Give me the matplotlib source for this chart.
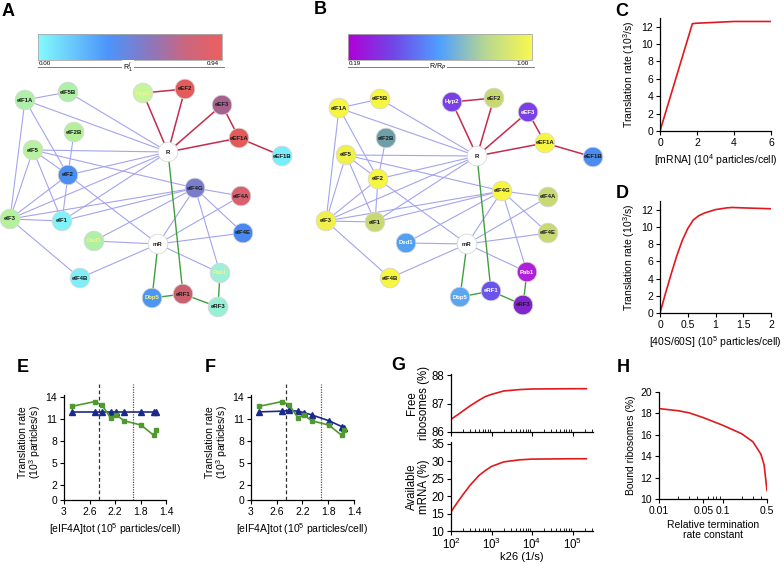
import numpy as np
import matplotlib
matplotlib.use('Agg')
import matplotlib.pyplot as plt
from matplotlib.colors import LinearSegmentedColormap
from matplotlib.ticker import NullFormatter, LogLocator

plt.rcParams['font.family'] = ['Liberation Sans', 'DejaVu Sans']
plt.rcParams['mathtext.fontset'] = 'custom'
plt.rcParams['mathtext.rm'] = 'Liberation Sans'
plt.rcParams['axes.linewidth'] = 0.9

W, H = 784, 565

# ---- network data (panels A, B) ----
nodes = ['eIF1A', 'eIF5B', 'Hyp2', 'eEF2', 'eEF3', 'eEF1A', 'eEF1B', 'eIF2B', 'eIF5', 'R',
         'eIF2', 'eIF4G', 'eIF4A', 'eIF3', 'eIF1', 'eIF4E', 'Ded1', 'mR', 'Pab1', 'eIF4B',
         'Dbp5', 'eRF1', 'eRF3']
xa = [25, 68, 143, 185, 222, 239, 282, 74, 33, 168, 68, 195, 241, 10, 62, 243, 94, 158, 220, 80, 152, 183, 218]
ya = [100, 92, 93, 89, 105, 138, 156, 132, 150, 152, 175, 188, 196, 219, 221, 233, 241, 244, 273, 278, 298, 294, 307]
xb = [339, 380, 452, 494, 528, 545, 593, 386, 346, 477, 378, 502, 548, 326, 375, 548, 406, 467, 527, 390, 460, 491, 523]
yb = [108, 99, 102, 98, 112, 143, 157, 138, 155, 156, 179, 191, 197, 221, 222, 233, 243, 244, 272, 278, 297, 291, 305]

col_a = ['#aef0a8', '#aef0a8', '#c6f59a', '#e55a5a', '#a5628f', '#e25a5a', '#78eefa', '#b4f09a',
         '#b6f0a0', '#ffffff', '#4c8ff0', '#7a7ccc', '#d9606e', '#b4f29a', '#80f2f8', '#4a88f0',
         '#aef0a8', '#ffffff', '#9ef0d8', '#80eef6', '#4c96f0', '#c8606e', '#98f0d4']
col_b = ['#f6f640', '#f6f640', '#7a40e6', '#c8d872', '#7a40e6', '#f6f640', '#4c8cf0', '#6e9ea8',
         '#f0f048', '#ffffff', '#f6f640', '#f6f640', '#c8d872', '#f0f048', '#c8d872', '#c8d872',
         '#52a0f0', '#ffffff', '#b020d8', '#f6f640', '#5aa6f0', '#6a52ea', '#8226cc']
light_a = ['Hyp2', 'Ded1', 'Pab1', 'Dbp5']
light_b = ['Hyp2', 'eEF3', 'Ded1', 'Pab1', 'Dbp5', 'eRF1']

edges_init = [('eIF1A', 'eIF5B'), ('eIF1A', 'R'), ('eIF5B', 'R'), ('eIF1A', 'eIF2'), ('eIF1A', 'eIF3'),
              ('eIF2B', 'eIF2'), ('eIF5', 'R'), ('eIF5', 'eIF2'), ('eIF5', 'eIF1'), ('eIF5', 'eIF3'),
              ('eIF5', 'eIF4G'), ('eIF2', 'R'), ('eIF2', 'eIF1'), ('eIF2', 'eIF3'), ('eIF2', 'mR'),
              ('eIF3', 'R'), ('eIF3', 'eIF4G'), ('eIF3', 'eIF1'), ('eIF1', 'R'), ('eIF1', 'eIF4G'),
              ('eIF3', 'eIF4B'), ('eIF4B', 'mR'), ('Ded1', 'mR'), ('Ded1', 'eIF4G'), ('mR', 'eIF4G'),
              ('mR', 'eIF4A'), ('mR', 'eIF4E'), ('mR', 'Pab1'), ('eIF4G', 'eIF4A'), ('eIF4G', 'eIF4E'),
              ('eIF4G', 'Pab1')]
edges_elong = [('R', 'Hyp2'), ('R', 'eEF2'), ('R', 'eEF3'), ('R', 'eEF1A'), ('Hyp2', 'eEF2'),
               ('eEF3', 'eEF1A'), ('eEF1A', 'eEF1B')]
edges_term = [('R', 'eRF1'), ('mR', 'Dbp5'), ('Dbp5', 'eRF1'), ('eRF1', 'eRF3'), ('Pab1', 'eRF3')]

# ---- curve data ----
c_x = [0, 1.75, 2, 3, 4, 5, 6]
c_y = [0, 12.35, 12.4, 12.5, 12.6, 12.6, 12.6]

d_x = [0, 0.1, 0.2, 0.3, 0.4, 0.5, 0.6, 0.7, 0.8, 1.0, 1.2, 1.3, 1.5, 2.0]
d_y = [0, 2.3, 4.5, 6.6, 8.4, 9.8, 10.8, 11.3, 11.6, 12.0, 12.2, 12.25, 12.2, 12.1]

eif4a = [2.88, 2.52, 2.41, 2.27, 2.18, 2.06, 1.79, 1.59, 1.56]
green_rate = [12.75, 13.4, 13.0, 11.2, 11.6, 10.8, 10.2, 8.8, 9.5]
blue_e = [12.0, 12.0, 12.0, 12.0, 12.0, 12.0, 12.0, 12.0, 12.0]
blue_f = [12.0, 12.1, 12.2, 12.1, 11.9, 11.6, 10.8, 10.0, 9.8]
dash_x, dot_x = 2.45, 1.92

k26 = [1e2, 1.5e2, 2e2, 3e2, 5e2, 7e2, 1e3, 2e3, 5e3, 1e4, 1e5, 2.2e5]
free_ribo = [86.45, 86.62, 86.75, 86.93, 87.13, 87.25, 87.33, 87.45, 87.5, 87.52, 87.53, 87.53]
avail_mrna = [15.5, 18.5, 20.5, 23.2, 26.0, 27.3, 28.5, 29.8, 30.4, 30.6, 30.7, 30.7]

term = [0.01, 0.02, 0.03, 0.05, 0.1, 0.2, 0.3, 0.4, 0.45, 0.5]
bound = [18.45, 18.25, 18.05, 17.6, 16.9, 16.1, 15.35, 14.2, 13.2, 10.8]


def box(l, t, r, b):
    return [l / W, 1 - b / H, (r - l) / W, (b - t) / H]


fig = plt.figure(figsize=(W / 100, H / 100), dpi=100)

# network canvas in pixel units
net = fig.add_axes([0, 0, 1, 1])
net.set_xlim(0, W)
net.set_ylim(H, 0)
net.axis('off')

cmap_a = LinearSegmentedColormap.from_list('a', [(0, '#84fbfd'), (0.38, '#4d94fb'), (0.6, '#8a78c0'),
                                                 (0.8, '#c96780'), (1, '#ec6060')])
cmap_b = LinearSegmentedColormap.from_list('b', [(0, '#b000d8'), (0.25, '#7048e8'), (0.5, '#50a0ff'),
                                                 (0.75, '#b8d890'), (1, '#f8f850')])
grad = np.linspace(0, 1, 256).reshape(1, -1)
for cm, x0, lo, hi, mid in [(cmap_a, 38, '0.00', '0.94', r'R$^{\,J}_{\,1}$'),
                            (cmap_b, 348, '0.19', '1.00', r'R/R$_P$')]:
    net.imshow(grad, cmap=cm, aspect='auto', extent=(x0, x0 + 184, 60, 34), zorder=1)
    net.plot([x0, x0 + 184, x0 + 184, x0], [34, 34, 60, 60], color='#aaaaaa', lw=0.6)
    net.plot([x0, x0], [34, 60], color='#aaaaaa', lw=0.6)
    net.plot([x0, x0 + 186], [67, 67], color='#666666', lw=0.6)
    net.text(x0 + 1, 66, lo, fontsize=4.5, ha='left', va='bottom')
    net.text(x0 + 181, 66, hi, fontsize=4.5, ha='right', va='bottom')
    net.text(x0 + 90, 67, mid, fontsize=5, ha='center', va='center',
             bbox=dict(facecolor='white', edgecolor='none', pad=0.5))

for xs, ys, cols, light, txtc in [(xa, ya, col_a, light_a, '#f4f48a'), (xb, yb, col_b, light_b, 'white')]:
    pos = {n: (xs[i], ys[i]) for i, n in enumerate(nodes)}
    for elist, ec, lw in [(edges_init, '#a4a4ee', 0.8), (edges_elong, '#c42c4c', 1.1),
                          (edges_term, '#3f9f3f', 1.0)]:
        for a, b in elist:
            net.plot([pos[a][0], pos[b][0]], [pos[a][1], pos[b][1]], color=ec, lw=lw, zorder=2)
    net.scatter(xs, ys, s=200, c=cols, edgecolors='#d8d8d8', linewidths=0.6, zorder=3)
    for i, n in enumerate(nodes):
        tc = txtc if n in light else '#1a1a1a'
        net.text(xs[i], ys[i], n, fontsize=4.3, fontweight='bold', color=tc,
                 ha='center', va='center', zorder=4)

# panel letters
for lab, x, y in [('A', 8, 11), ('B', 320, 9), ('C', 622, 11), ('D', 622, 194),
                  ('E', 23, 368), ('F', 210, 368), ('G', 398, 366), ('H', 623, 368)]:
    net.text(x, y, lab, fontsize=13, fontweight='bold', ha='center', va='center')


def style(ax, fs=7.5):
    ax.spines['top'].set_visible(False)
    ax.spines['right'].set_visible(False)
    ax.tick_params(labelsize=fs, length=3, width=0.8, pad=2)


red = '#e0191e'

# C
ax = fig.add_axes(box(660, 18, 771, 131))
ax.plot(c_x, c_y, color=red, lw=1.2)
ax.set_xlim(0, 6)
ax.set_ylim(0, 13)
ax.set_xticks([0, 2, 4, 6])
ax.set_yticks(range(0, 13, 2))
ax.set_xlabel('[mRNA] (10$^4$ particles/cell)', fontsize=7.5, labelpad=3)
ax.set_ylabel('Translation rate (10$^3$/s)', fontsize=7.5, labelpad=3)
style(ax)

# D
ax = fig.add_axes(box(660, 201, 771, 313))
ax.plot(d_x, d_y, color=red, lw=1.2)
ax.set_xlim(0, 2)
ax.set_ylim(0, 13)
ax.set_xticks([0, 0.5, 1, 1.5, 2])
ax.set_xticklabels(['0', '0.5', '1', '1.5', '2'])
ax.set_yticks(range(0, 13, 2))
ax.set_xlabel('[40S/60S] (10$^5$ particles/cell)', fontsize=7.5, labelpad=3)
ax.set_ylabel('Translation rate (10$^3$/s)', fontsize=7.5, labelpad=3)
style(ax)

# E, F
for l, r, blue in [(64, 166, blue_e), (251, 354, blue_f)]:
    ax = fig.add_axes(box(l, 384, r, 500))
    ax.axvline(dash_x, ymin=0, ymax=1, color='#333333', lw=0.9, ls=(0, (3, 2)))
    ax.axvline(dot_x, ymin=0, ymax=1, color='#555555', lw=0.9, ls=(0, (1, 1)))
    ax.plot(eif4a, blue, color='#1b2a8a', lw=1.2, marker='^', ms=4, zorder=3)
    ax.plot(eif4a, green_rate, color='#4e9a2e', lw=1.2, marker='s', ms=3.5, zorder=4)
    ax.set_xlim(3, 1.4)
    ax.set_ylim(0, 15.8)
    ax.spines['left'].set_bounds(0, 14.3)
    ax.set_xticks([3, 2.6, 2.2, 1.8, 1.4])
    ax.set_xticklabels(['3', '2.6', '2.2', '1.8', '1.4'])
    ax.set_yticks([0, 2, 5, 8, 11, 14])
    ax.set_xlabel('[eIF4A]tot (10$^5$ particles/cell)', fontsize=7.5, labelpad=3)
    ax.set_ylabel('Translation rate\n(10$^3$ particles/s)', fontsize=7.5, labelpad=2, linespacing=0.9)
    style(ax)

# G
gx0, gx1 = 451, 593
ax1 = fig.add_axes(box(gx0, 374, gx1, 432))
ax2 = fig.add_axes(box(gx0, 442, gx1, 531))
ax1.plot(k26, free_ribo, color=red, lw=1.2)
ax2.plot(k26, avail_mrna, color=red, lw=1.2)
for ax in (ax1, ax2):
    ax.set_xscale('log')
    ax.set_xlim(1e2, 3.2e5)
    ax.xaxis.set_major_locator(LogLocator(base=10, numticks=10))
    ax.xaxis.set_minor_locator(LogLocator(base=10, subs=np.arange(2, 10), numticks=10))
    ax.xaxis.set_minor_formatter(NullFormatter())
    style(ax, fs=8.3)
    ax.tick_params(axis='x', which='minor', direction='in', length=2, width=0.6)
ax2.tick_params(axis='x', pad=1)
ax1.set_ylim(86, 88.05)
ax1.set_yticks([86, 87, 88])
ax1.xaxis.set_major_formatter(NullFormatter())
ax2.set_ylim(10, 35.5)
ax2.set_yticks([10, 15, 20, 25, 30, 35])
ax1.set_ylabel('Free\nribosomes (%)', fontsize=8.3, labelpad=1, linespacing=1.0)
ax2.set_ylabel('Available\nmRNA (%)', fontsize=8.3, labelpad=1, linespacing=1.0)
ax2.set_xlabel('k26 (1/s)', fontsize=8, labelpad=0)

# H
ax = fig.add_axes(box(659, 392, 767, 499))
ax.plot(term, bound, color=red, lw=1.2)
ax.set_xscale('log')
ax.set_xlim(0.01, 0.5)
ax.set_ylim(10, 20)
ax.set_yticks([10, 12, 14, 16, 18, 20])
ax.set_xticks([0.01, 0.05, 0.1, 0.5])
ax.set_xticklabels(['0.01', '0.05', '0.1', '0.5'])
ax.xaxis.set_minor_locator(LogLocator(base=10, subs=np.arange(2, 10), numticks=10))
ax.xaxis.set_minor_formatter(NullFormatter())
style(ax)
ax.tick_params(axis='x', which='minor', direction='in', length=2, width=0.6)
ax.set_xlabel('Relative termination\nrate constant', fontsize=7.5, labelpad=3, linespacing=1.0)
ax.set_ylabel('Bound ribosomes (%)', fontsize=7.5, labelpad=3)

fig.savefig('out.png', dpi=100)
